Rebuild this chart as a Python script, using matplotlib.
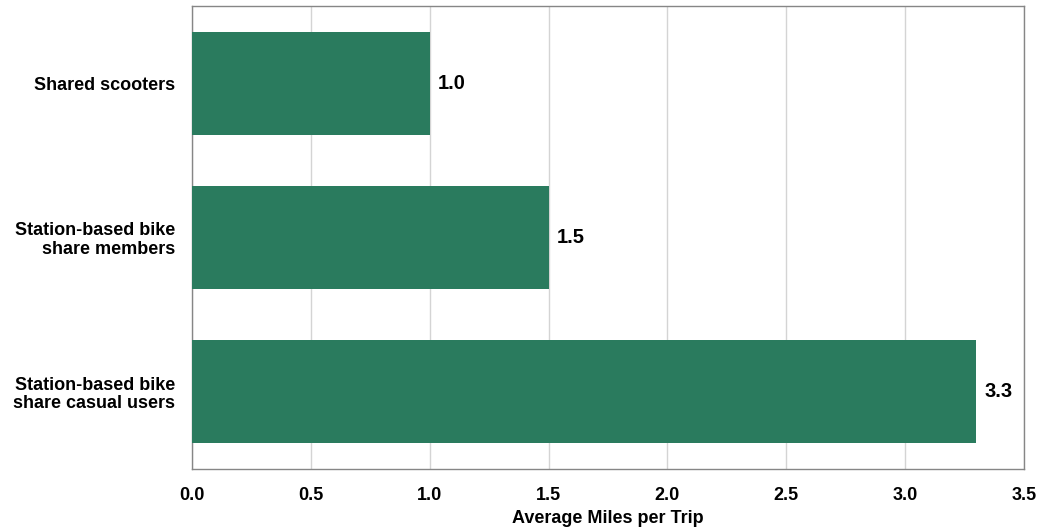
import matplotlib
matplotlib.use('Agg')
import matplotlib.pyplot as plt

# Chart data
categories = ['Shared scooters', 'Station-based bike\nshare members', 'Station-based bike\nshare casual users']
miles = [1.0, 1.5, 3.3]
xticks = [0.0, 0.5, 1.0, 1.5, 2.0, 2.5, 3.0, 3.5]

plt.rcParams['font.family'] = ['Liberation Sans', 'DejaVu Sans']

fig = plt.figure(figsize=(10.42, 5.29), dpi=100)
ax = fig.add_axes([0.1843, 0.1134, 0.7984, 0.8753])

ypos = list(range(len(categories)))
ax.barh(ypos, miles, height=0.667, color='#2a7b5e', zorder=3)
for y, v in zip(ypos, miles):
    ax.text(v + 0.035, y, f'{v:.1f}', va='center', ha='left', fontsize=14.5, fontweight='bold')

ax.set_ylim(2.5, -0.5)
ax.set_xlim(0, 3.5)
ax.set_yticks(ypos)
ax.set_yticklabels(categories, fontsize=13, fontweight='bold', ha='right', linespacing=1.12)
ax.set_xticks(xticks)
ax.set_xticklabels([f'{t:.1f}' for t in xticks], fontsize=13, fontweight='bold')
ax.tick_params(axis='y', length=0, pad=12)
ax.tick_params(axis='x', length=0, pad=13)
ax.xaxis.grid(True, color='#d4d4d4', linewidth=1, zorder=0)
for s in ax.spines.values():
    s.set_color('#868686')
    s.set_linewidth(1)
ax.set_xlabel('Average Miles per Trip', fontsize=13, fontweight='bold', labelpad=4)

fig.savefig('out.png', dpi=100)
